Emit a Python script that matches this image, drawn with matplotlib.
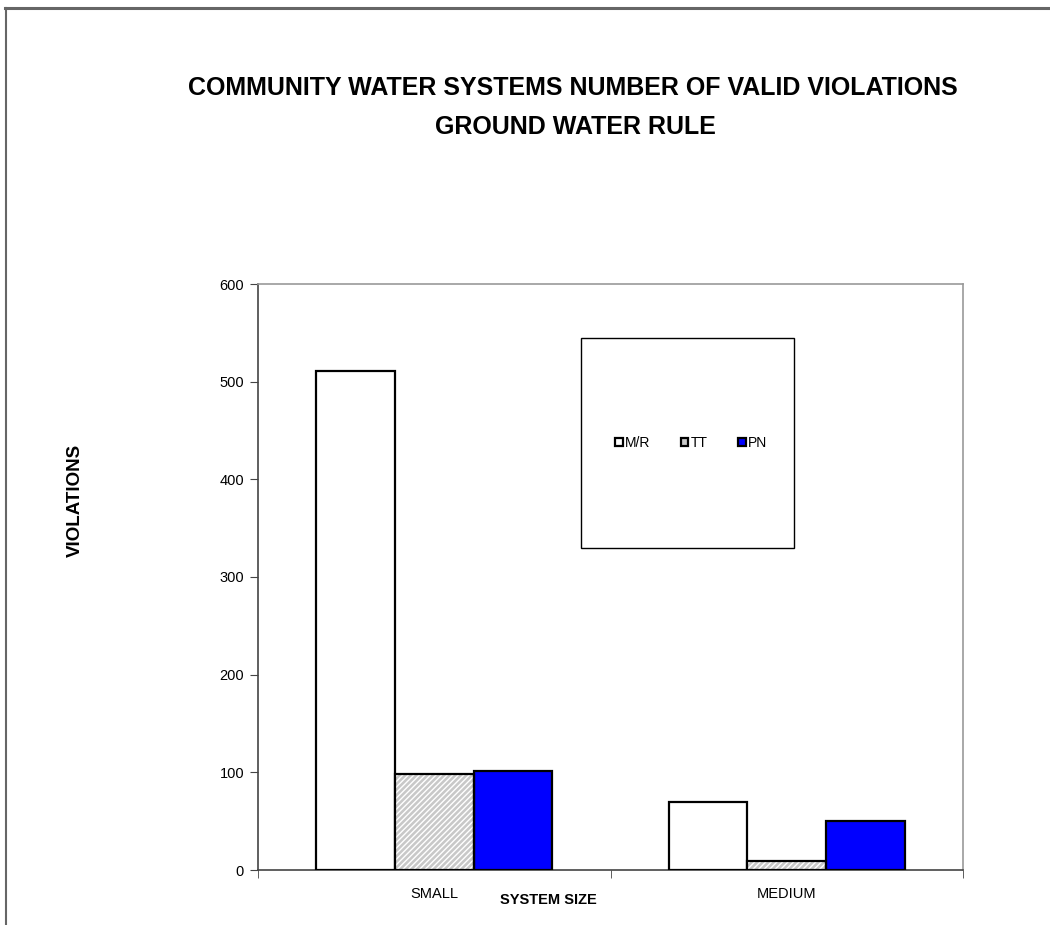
import matplotlib
matplotlib.use("Agg")
import matplotlib.pyplot as plt
from matplotlib.patches import Rectangle, Patch
from matplotlib.lines import Line2D
from matplotlib import font_manager
import numpy as np

categories = ["SMALL", "MEDIUM"]
series_names = ["M/R", "TT", "PN"]
mr_values = [511, 70]
tt_values = [98, 9]
pn_values = [101, 50]
y_ticks = [0, 100, 200, 300, 400, 500, 600]

names = {f.name for f in font_manager.fontManager.ttflist}
narrow = "Liberation Sans Narrow" if "Liberation Sans Narrow" in names else "Liberation Sans"
plt.rcParams['font.family'] = [narrow, 'DejaVu Sans']

fig = plt.figure(figsize=(10.5, 9.25), dpi=100)
ax = fig.add_axes([258/1050, 55/925, 705/1050, 586/925])

# figure frame lines (top & left)
fig.add_artist(Line2D([5/1050, 1.0], [1-8/925, 1-8/925], color='#666666', lw=2.2, transform=fig.transFigure))
fig.add_artist(Line2D([5.5/1050, 5.5/1050], [0, 1-8/925], color='#666666', lw=1.5, transform=fig.transFigure))

x = np.arange(len(categories))
w = 0.2227
ax.bar(x - w, mr_values, w, color='white', edgecolor='black', linewidth=1.6, zorder=3)
ax.bar(x, tt_values, w, color='#c8c8c8', edgecolor='white', hatch='//////', linewidth=0, zorder=3)
ax.bar(x, tt_values, w, fill=False, edgecolor='black', linewidth=1.6, zorder=4)
ax.bar(x + w, pn_values, w, color='#0000ff', edgecolor='black', linewidth=1.6, zorder=3)

ax.set_xlim(-0.5, 1.5)
ax.set_ylim(0, 600)
ax.set_yticks(y_ticks)
ax.set_yticklabels([str(v) for v in y_ticks], fontsize=10.5)
ax.set_xticks(x)
ax.set_xticklabels(categories, fontsize=10.5)
ax.tick_params(axis='x', which='major', length=0, pad=12)
ax.set_xticks([-0.5, 0.5, 1.5], minor=True)
ax.tick_params(axis='x', which='minor', length=6, direction='out', color='#444444')
ax.tick_params(axis='y', length=6, direction='out', color='#444444', pad=4)

for s in ['top', 'right']:
    ax.spines[s].set_color('#999999')
    ax.spines[s].set_linewidth(1.2)
for s in ['left', 'bottom']:
    ax.spines[s].set_color('#444444')
    ax.spines[s].set_linewidth(1.2)

fig.text(548/1050, 1-900/925, "SYSTEM SIZE", fontsize=10.5, fontweight='bold', ha='center', va='center')
fig.text(75/1050, 1-500/925, "VIOLATIONS", fontsize=13.5, fontweight='bold', ha='center', va='center',
         rotation=90, family=['Liberation Sans', 'DejaVu Sans'])

fig.text(573/1050, 1-88/925, "COMMUNITY WATER SYSTEMS NUMBER OF VALID VIOLATIONS",
         fontsize=18, fontweight='bold', ha='center', va='center')
fig.text(575/1050, 1-127/925, "GROUND WATER RULE",
         fontsize=18, fontweight='bold', ha='center', va='center')

# legend box
x0, x1 = (581-258)/705, (794-258)/705
y0, y1 = (870-548)/586, (870-338)/586
ax.add_patch(Rectangle((x0, y0), x1-x0, y1-y0, transform=ax.transAxes, facecolor='white',
                       edgecolor='black', linewidth=1.0, zorder=5))
handles = [Patch(facecolor='white', edgecolor='black', linewidth=1.6),
           Patch(facecolor='#c8c8c8', edgecolor='black', linewidth=1.6),
           Patch(facecolor='#0000ff', edgecolor='black', linewidth=1.6)]
leg = ax.legend(handles, series_names, ncol=3, loc='center', bbox_to_anchor=((x0+x1)/2 + 0.005, (y0+y1)/2),
                frameon=False, fontsize=10, handlelength=0.55, handleheight=0.55,
                handletextpad=0.15, columnspacing=2.2)
leg.set_zorder(6)

fig.savefig("out.png", dpi=100, facecolor='white')
